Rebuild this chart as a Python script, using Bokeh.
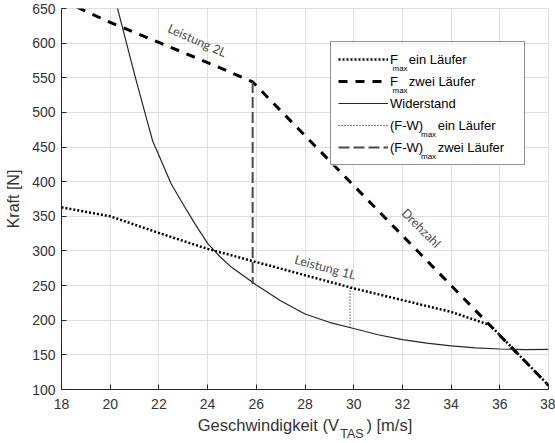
from bokeh.plotting import figure
from bokeh.models import (Legend, LegendItem, Label, FixedTicker, Range1d,
                          BoxAnnotation, LinearAxis)
from bokeh.embed import file_html
from bokeh.resources import INLINE

# --- tick positions -------------------------------------------------------
x_ticks = [18, 20, 22, 24, 26, 28, 30, 32, 34, 36, 38]
y_ticks = [100, 150, 200, 250, 300, 350, 400, 450, 500, 550, 600, 650]

# --- F_max with one runner (power limit, then rpm limit) -------------------
v_1L = [18, 20, 22, 24, 26, 28, 30, 32, 34, 35.6, 38]
F_1L = [363, 350, 326, 303, 284, 265, 246, 229, 212, 193, 106]

# --- F_max with two runners (power limit, then rpm limit) ------------------
v_2L = [18, 20, 22, 24, 25.85, 38]
F_2L = [662, 630, 601, 572, 544, 106]

# --- drag (Widerstand) -----------------------------------------------------
v_W = [20.0, 20.5, 21.0, 21.5, 21.75, 22, 22.5, 23, 23.5, 24, 24.5, 25,
       26, 27, 28, 29, 30, 31, 32, 33, 34, 35, 36, 37, 38]
W = [691, 623, 555, 490, 458, 438, 397, 367, 338, 311, 292, 276,
     251, 228, 209, 197, 188, 179, 172, 167, 163, 160, 158.5, 157.5, 158]

# --- maximum excess thrust (F-W)max ---------------------------------------
v_fw1 = [29.85, 29.85]
F_fw1 = [247, 189]
v_fw2 = [25.85, 25.85]
F_fw2 = [544, 252]

AX = "#262626"
TXT = "#333333"
FONT = "Liberation Sans"
NB = "\u00a0"

X0, X1, Y0, Y1 = 18, 38, 100, 650
W_PX, H_PX = 555, 443
BL, BR, BT, BB = 61, 7, 8, 54
FW, FH = W_PX - BL - BR, H_PX - BT - BB


def to_data(px_x, px_y):
    """Convert a canvas pixel position to data coordinates of the frame."""
    return (X0 + (px_x - BL) * (X1 - X0) / FW,
            Y0 + (H_PX - BB - px_y) * (Y1 - Y0) / FH)


p = figure(width=W_PX, height=H_PX, x_range=Range1d(X0, X1), y_range=Range1d(Y0, Y1),
           output_backend="svg", toolbar_location=None,
           min_border_left=BL, min_border_right=BR, min_border_top=BT, min_border_bottom=BB)
p.background_fill_color = "white"
p.border_fill_color = "white"
p.outline_line_color = "#dedede"

for ax in (p.xaxis[0], p.yaxis[0]):
    ax.axis_line_color = AX
    ax.major_tick_line_color = AX
    ax.major_tick_in = 5
    ax.major_tick_out = 0
    ax.minor_tick_line_color = None
    ax.major_label_text_font = FONT
    ax.major_label_text_font_size = "14px"
    ax.major_label_text_color = TXT
    ax.axis_label_text_font = FONT
    ax.axis_label_text_font_style = "normal"
    ax.axis_label_text_color = TXT

p.xaxis.ticker = FixedTicker(ticks=x_ticks)
p.yaxis.ticker = FixedTicker(ticks=y_ticks)
p.xaxis.major_label_standoff = 9
p.yaxis.major_label_standoff = 6
p.yaxis.axis_label = "Kraft [N]"
p.yaxis.axis_label_text_font_size = "16px"
p.yaxis.axis_label_standoff = 7

# x title "Geschwindigkeit (V_TAS) [m/s]": main text with a gap for the subscript
p.xaxis.axis_label = "Geschwindigkeit (V" + NB * 6 + ") [m/s]"
p.xaxis.axis_label_text_font_size = "16.5px"
p.xaxis.axis_label_standoff = 4

# subscript "TAS" on a bare axis directly underneath
sub_axis = LinearAxis(ticker=FixedTicker(ticks=[]), axis_line_color=None,
                      major_tick_line_color=None, minor_tick_line_color=None,
                      major_label_text_font_size="0px",
                      axis_label=NB * 27 + "TAS", axis_label_text_font=FONT,
                      axis_label_text_font_style="normal",
                      axis_label_text_font_size="12.5px",
                      axis_label_text_color=TXT, axis_label_standoff=-10)
p.add_layout(sub_axis, "below")

p.grid.grid_line_color = "#dedede"
p.grid.grid_line_width = 1

r_1L = p.line(v_1L, F_1L, line_color="black", line_width=2.5, line_dash="2 2")
r_2L = p.line(v_2L, F_2L, line_color="black", line_width=3, line_dash="9 8")
r_W = p.line(v_W, W, line_color=AX, line_width=1.2)
r_fw1 = p.line(v_fw1, F_fw1, line_color="black", line_width=1, line_dash="1 2")
r_fw2 = p.line(v_fw2, F_fw2, line_color="#4a4a4a", line_width=2, line_dash="11 4")

# --- curve annotations ------------------------------------------------------
for txt, x, y, ang in [("Leistung 2L", 23.57, 604, -24),
                       ("Drehzahl", 32.77, 333, -45),
                       ("Leistung 1L", 28.83, 276.5, -15)]:
    p.add_layout(Label(x=x, y=y, text=txt, angle=ang, angle_units="deg",
                       text_align="center", text_baseline="middle",
                       text_font="Lato", text_font_size="12.5px",
                       text_color="#4d4d4d"))

# --- legend -----------------------------------------------------------------
pad, spacing, row_h, glyph_w, standoff = 7, 2, 20, 50, 2
leg_x, leg_y = 269, 224
leg_w = 193
leg_h = 2 * pad + 5 * row_h + 4 * spacing
legend_left = BL + leg_x
legend_top = H_PX - BB - (leg_y + leg_h)

# white panel behind the (transparent) legend
bl_x, bl_y = to_data(legend_left, legend_top + leg_h)
tr_x, tr_y = to_data(legend_left + leg_w, legend_top)
p.add_layout(BoxAnnotation(left=bl_x, right=tr_x, bottom=bl_y, top=tr_y,
                           fill_color="white", fill_alpha=1, line_color=None))

items = [
    LegendItem(label="F" + NB * 2 + " ein Läufer", renderers=[r_1L]),
    LegendItem(label="F" + NB * 2 + " zwei Läufer", renderers=[r_2L]),
    LegendItem(label="Widerstand", renderers=[r_W]),
    LegendItem(label="(F-W)" + NB * 3 + " ein Läufer", renderers=[r_fw1]),
    LegendItem(label="(F-W)" + NB * 3 + " zwei Läufer", renderers=[r_fw2]),
]
legend = Legend(items=items, location=(leg_x, leg_y), orientation="vertical",
                padding=pad, spacing=spacing, margin=0,
                glyph_width=glyph_w, glyph_height=row_h, label_height=row_h,
                label_standoff=standoff, label_width=leg_w - 2 * pad - glyph_w - standoff,
                label_text_font=FONT, label_text_font_size="13px",
                label_text_color="black", label_text_baseline="middle",
                border_line_color=AX, border_line_width=1,
                background_fill_alpha=0)
p.add_layout(legend)

# subscripts "max" beside the F / (F-W) part of the legend labels
text_x0 = legend_left + pad + glyph_w + standoff
for row, dx in [(0, 3), (1, 3), (3, 31.5), (4, 31.5)]:
    cy = legend_top + pad + row_h / 2 + row * (row_h + spacing)
    sx, sy = to_data(text_x0 + dx, cy + 7.5)
    p.add_layout(Label(x=sx, y=sy, text="max", text_font=FONT, text_font_size="8px",
                       text_color="black", text_baseline="middle", text_align="left"))

open("out.html", "w").write(file_html(p, INLINE))
